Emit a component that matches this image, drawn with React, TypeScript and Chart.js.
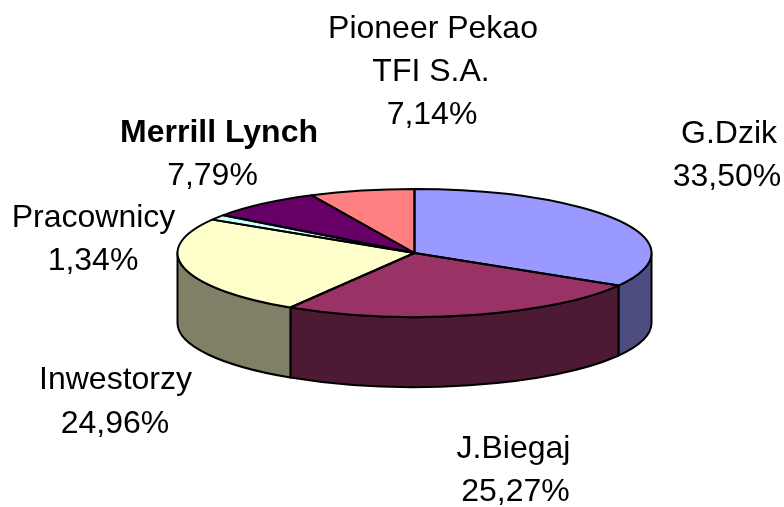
import React, { useEffect, useRef } from "react";
import { Chart, registerables } from "chart.js";

Chart.register(...registerables);

const names = ["G.Dzik", "J.Biegaj", "Inwestorzy", "Pracownicy", "Merrill Lynch", "Pioneer Pekao TFI S.A."];
const values = [33.5, 25.27, 24.96, 1.34, 7.79, 7.14];
const topColors = ["#9999FF", "#993366", "#FFFFCC", "#CCFFFF", "#660066", "#FF8080"];
const wallColors = ["#4D4D80", "#4D1A33", "#808066", "#668080", "#330033", "#804040"];
const labelLines = [
  ["G.Dzik", "33,50%"],
  ["J.Biegaj", "25,27%"],
  ["Inwestorzy", "24,96%"],
  ["Pracownicy", "1,34%"],
  ["Merrill Lynch", "7,79%"],
  ["Pioneer Pekao", "TFI S.A.", "7,14%"],
];
const labelX = [
  [729, 727],
  [513.5, 515.5],
  [115.5, 115],
  [93.5, 93],
  [219, 212.5],
  [433, 431, 432],
];
const labelBaseline = [
  [143, 186],
  [458, 501],
  [389, 433],
  [227, 270],
  [142, 185],
  [38, 81, 124],
];
const SQUASH = 64 / 237;
const DEPTH = 70;
const FONT = '32px "Liberation Sans", Arial, sans-serif';
const BOLD_FONT = 'bold 32px "Liberation Sans", Arial, sans-serif';

function squashed(ctx: CanvasRenderingContext2D, cy: number) {
  ctx.translate(0, cy);
  ctx.scale(1, SQUASH);
  ctx.translate(0, -cy);
}

const pie3d = {
  id: "pie3d",
  beforeDatasetsDraw(chart: any) {
    const ctx: CanvasRenderingContext2D = chart.ctx;
    const arcs = chart.getDatasetMeta(0).data;
    arcs.forEach((arc: any, i: number) => {
      const a0 = Math.max(arc.startAngle, 0);
      const a1 = Math.min(arc.endAngle, Math.PI);
      if (a1 <= a0) return;
      const { x, y, outerRadius: r } = arc;
      const py = (a: number) => y + Math.sin(a) * r * SQUASH;
      const px = (a: number) => x + Math.cos(a) * r;
      ctx.save();
      ctx.beginPath();
      ctx.ellipse(x, y, r, r * SQUASH, 0, a0, a1);
      ctx.lineTo(px(a1), py(a1) + DEPTH);
      ctx.ellipse(x, y + DEPTH, r, r * SQUASH, 0, a1, a0, true);
      ctx.closePath();
      ctx.fillStyle = wallColors[i];
      ctx.fill();
      ctx.lineWidth = 2;
      ctx.lineJoin = "round";
      ctx.strokeStyle = "#000";
      ctx.stroke();
      ctx.restore();
    });
    ctx.save();
    squashed(ctx, arcs[0].y);
  },
  afterDatasetsDraw(chart: any) {
    const ctx: CanvasRenderingContext2D = chart.ctx;
    ctx.restore();
    const arcs = chart.getDatasetMeta(0).data;
    ctx.save();
    ctx.strokeStyle = "#000";
    ctx.lineWidth = 2;
    ctx.lineJoin = "round";
    arcs.forEach((arc: any) => {
      const { x, y, outerRadius: r, startAngle, endAngle } = arc;
      ctx.beginPath();
      ctx.moveTo(x, y);
      ctx.ellipse(x, y, r, r * SQUASH, 0, startAngle, endAngle);
      ctx.closePath();
      ctx.stroke();
    });
    ctx.fillStyle = "#000";
    ctx.textAlign = "center";
    ctx.textBaseline = "alphabetic";
    labelLines.forEach((lines, i) => {
      lines.forEach((line, j) => {
        ctx.font = names[i] === "Merrill Lynch" && j === 0 ? BOLD_FONT : FONT;
        ctx.fillText(line, labelX[i][j], labelBaseline[i][j]);
      });
    });
    ctx.restore();
  },
};

export default function App() {
  const ref = useRef<HTMLCanvasElement | null>(null);
  useEffect(() => {
    document.body.style.margin = "0";
    const chart = new Chart(ref.current!, {
      type: "pie",
      data: {
        labels: names,
        datasets: [{ data: values, backgroundColor: topColors, borderWidth: 0 }],
      },
      options: {
        animation: false,
        responsive: false,
        layout: { padding: { left: 177.5, right: 132.5, top: 16, bottom: 17 } },
        plugins: { legend: { display: false }, tooltip: { enabled: false } },
      },
      plugins: [pie3d],
    });
    return () => chart.destroy();
  }, []);
  return <canvas ref={ref} width={784} height={507} style={{ display: "block" }} />;
}
